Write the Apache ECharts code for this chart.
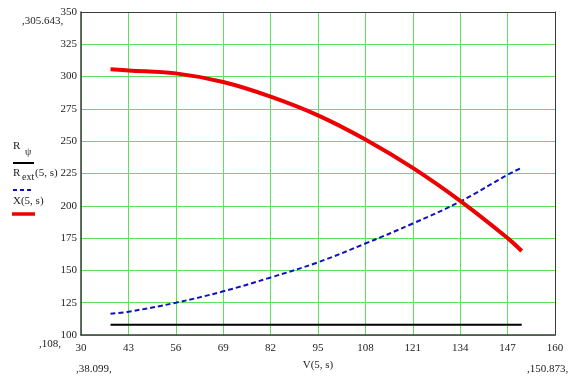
<!DOCTYPE html>
<html>
<head>
<meta charset="utf-8">
<script src="https://cdn.jsdelivr.net/npm/echarts@6/dist/echarts.min.js"></script>
<style>
  html, body { margin: 0; padding: 0; background: #fff; }
  #chart { width: 576px; height: 376px; }
</style>
</head>
<body>
<div id="chart"></div>
<script>
// x values V(5,s)
var xVals = [38.099, 43, 56, 69, 82, 95, 108, 121, 134, 147, 150.873];
// X(5,s) - red
var xReact = [305.6, 304.8, 302.5, 295.8, 284.5, 270, 251.3, 229.3, 203.8, 175, 165];
// R_ext(5,s) - blue dashed
var rExt = [116.5, 118, 125, 133.8, 144.5, 156.3, 170.8, 186.3, 203.3, 224, 229.5];
// R_psi - black
var rPsiX = [38.099, 150.873];
var rPsi = [108, 108];

function pairs(xs, ys) {
    var out = [];
    for (var i = 0; i < xs.length; i++) {
        out.push([xs[i], ys[i]]);
    }
    return out;
}

var FONT = '"Liberation Serif", "Times New Roman", serif';
var GREEN = '#5fe05f';
var FRAME = '#3c3c3c';

var chart = echarts.init(document.getElementById('chart'));

var option = {
    animation: false,
    backgroundColor: '#fff',
    textStyle: { fontFamily: FONT },
    grid: { left: 81, right: 21, top: 12, bottom: 31, show: false },
    xAxis: [{
        type: 'value',
        min: 30,
        max: 160,
        interval: 13,
        name: 'V(5, s)',
        nameLocation: 'middle',
        nameGap: 25,
        nameTextStyle: { color: '#222', fontSize: 11, fontFamily: FONT },
        axisLine: { show: true, lineStyle: { color: FRAME, width: 1.5 } },
        axisTick: { show: false },
        axisLabel: { color: '#222', fontSize: 11, fontFamily: FONT, margin: 8 },
        splitLine: { show: true, lineStyle: { color: GREEN, width: 1 } }
    }, {
        type: 'value',
        position: 'top',
        min: 30,
        max: 160,
        axisLine: { show: true, onZero: false, lineStyle: { color: FRAME, width: 1 } },
        axisTick: { show: false },
        axisLabel: { show: false },
        splitLine: { show: false }
    }],
    yAxis: [{
        type: 'value',
        min: 100,
        max: 350,
        interval: 25,
        axisLine: { show: true, lineStyle: { color: FRAME, width: 1.5 } },
        axisTick: { show: false },
        axisLabel: { color: '#222', fontSize: 11, fontFamily: FONT, margin: 4 },
        splitLine: { show: true, lineStyle: { color: GREEN, width: 1 } }
    }, {
        type: 'value',
        position: 'right',
        min: 100,
        max: 350,
        axisLine: { show: true, onZero: false, lineStyle: { color: FRAME, width: 1 } },
        axisTick: { show: false },
        axisLabel: { show: false },
        splitLine: { show: false }
    }],
    series: [{
        name: 'R_psi',
        type: 'line',
        data: pairs(rPsiX, rPsi),
        showSymbol: false,
        lineStyle: { color: '#000', width: 2 },
        z: 3
    }, {
        name: 'R_ext(5,s)',
        type: 'line',
        data: pairs(xVals, rExt),
        smooth: 0.4,
        showSymbol: false,
        lineStyle: { color: '#1010c0', width: 2, type: [5, 3] },
        z: 4
    }, {
        name: 'X(5,s)',
        type: 'line',
        data: pairs(xVals, xReact),
        smooth: 0.4,
        showSymbol: false,
        lineStyle: { color: '#ee0000', width: 4 },
        z: 5
    }],
    graphic: [
        // limit markers
        { type: 'text', left: 22, top: 16, style: { text: ',305.643,', font: '11px ' + FONT, fill: '#222' } },
        { type: 'text', left: 39, top: 339, style: { text: ',108,', font: '11px ' + FONT, fill: '#222' } },
        { type: 'text', left: 76, top: 364, style: { text: ',38.099,', font: '11px ' + FONT, fill: '#222' } },
        { type: 'text', left: 527, top: 364, style: { text: ',150.873,', font: '11px ' + FONT, fill: '#222' } },
        // legend
        { type: 'text', left: 13, top: 141, style: { text: 'R', font: '11px ' + FONT, fill: '#222' } },
        { type: 'text', left: 25, top: 147, style: { text: 'ψ', font: '10px ' + FONT, fill: '#222' } },
        { type: 'line', shape: { x1: 13, y1: 163, x2: 34, y2: 163 }, style: { stroke: '#000', lineWidth: 2 } },
        { type: 'text', left: 13, top: 168, style: { text: 'R', font: '11px ' + FONT, fill: '#222' } },
        { type: 'text', left: 22, top: 172, style: { text: 'ext', font: '10px ' + FONT, fill: '#222' } },
        { type: 'text', left: 35, top: 168, style: { text: '(5, s)', font: '11px ' + FONT, fill: '#222' } },
        { type: 'line', shape: { x1: 13, y1: 190, x2: 34, y2: 190 }, style: { stroke: '#1010c0', lineWidth: 2, lineDash: [4, 3] } },
        { type: 'text', left: 13, top: 196, style: { text: 'X(5, s)', font: '11px ' + FONT, fill: '#222' } },
        { type: 'line', shape: { x1: 12, y1: 214, x2: 35, y2: 214 }, style: { stroke: '#ee0000', lineWidth: 3.5 } }
    ]
};

chart.setOption(option);
</script>
</body>
</html>
